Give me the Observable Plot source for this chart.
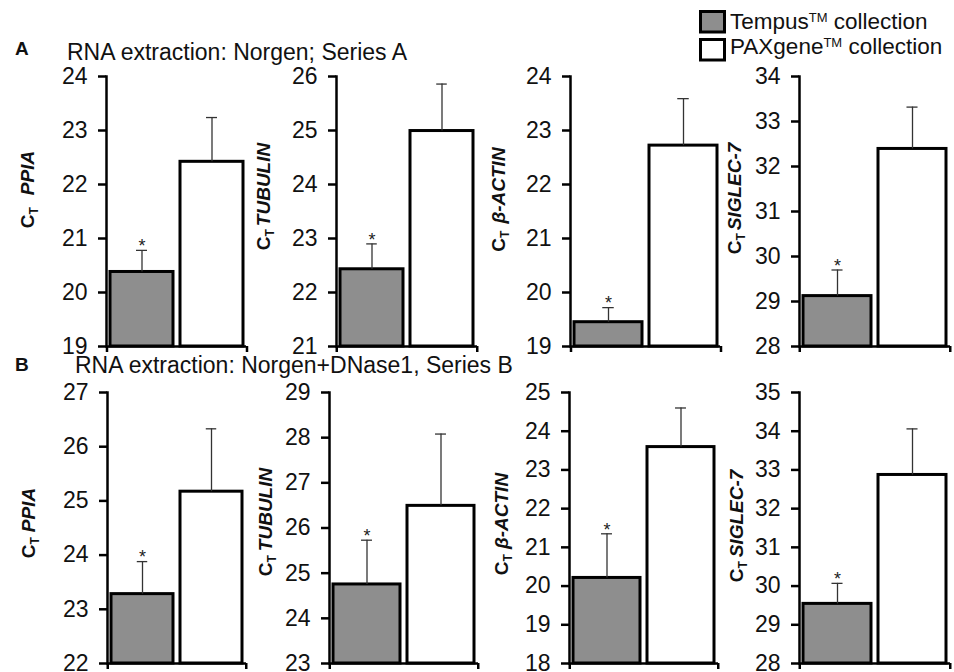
<!DOCTYPE html>
<html><head><meta charset="utf-8">
<script src="https://cdn.jsdelivr.net/npm/d3@7"></script>
<script src="https://cdn.jsdelivr.net/npm/@observablehq/plot@0.6"></script>
<style>
body{margin:0;background:#fff;}
#chart{position:relative;width:954px;height:672px;font-family:"Liberation Sans",Arial,sans-serif;color:#111;overflow:hidden;background:#fff;}
</style></head><body><div id="chart"></div>
<script>
// ---- data ----
const genes = ["PPIA","TUBULIN","β-ACTIN","SIGLEC-7"];
const collections = ["Tempus","PAXgene"];
const seriesNames = ["A","B"];
const seriesTitles = ["RNA extraction: Norgen; Series A","RNA extraction: Norgen+DNase1, Series B"];
const yMinA = [19,21,19,28], yMaxA = [24,26,24,34];
const yMinB = [22,23,18,28], yMaxB = [27,29,25,35];
const tempusA = [20.38,22.43,19.45,29.12], tempusErrA = [0.40,0.47,0.27,0.58];
const paxA    = [22.42,24.99,22.72,32.39], paxErrA    = [0.82,0.87,0.87,0.93];
const tempusB = [23.28,24.75,20.21,29.54], tempusErrB = [0.60,0.98,1.14,0.53];
const paxB    = [25.17,26.49,23.59,32.87], paxErrB    = [1.16,1.59,1.01,1.19];
const significantA = [true,true,true,true];
const significantB = [true,true,true,true];

// ---- layout (pixels) ----
const rowTop = [75.5, 392], rowBottom = [345.5, 663];
const colX0 = [[106,336,570,799],[107,329,569,799]];
const colX1 = [[246,477,720,950],[246,478,718,950]];
const titleDx = [[72,66,65,58],[72,57,61,56]];
const titleCy = [[189,196,199,198],[523,522,524,526]];
const titleGap = [[12,3,7,3],[5,4,5,4]];
const FONT = "'Liberation Sans', Arial, sans-serif";
const GRAY = "#8e8e8e";

const chart = document.getElementById("chart");

function panel(r, c) {
  const lo = [yMinA, yMinB][r][c], hi = [yMaxA, yMaxB][r][c];
  const means = [[tempusA, paxA], [tempusB, paxB]][r];
  const errs = [[tempusErrA, paxErrA], [tempusErrB, paxErrB]][r];
  const sig = [significantA, significantB][r][c];
  const data = collections.map((k, i) => ({c: k, v: means[i][c], e: errs[i][c], lo, sig: i === 0 && sig}));
  const x0 = colX0[r][c], x1 = colX1[r][c];
  const ML = 100, MR = 12, MT = 40, MB = 14;
  const W = x1 - x0 + ML + MR, H = rowBottom[r] - rowTop[r] + MT + MB;
  const pIn = 0.1, pOut = 0.05;
  const step = (x1 - x0) / (2 - pIn + 2 * pOut);
  const bw = step * (1 - pIn);
  const capInset = (bw - 11) / 2;
  const plot = Plot.plot({
    width: W, height: H, marginLeft: ML, marginRight: MR, marginTop: MT, marginBottom: MB,
    style: {background: "transparent", overflow: "visible", fontFamily: FONT, color: "#000"},
    x: {domain: collections, paddingInner: pIn, paddingOuter: pOut, axis: null},
    y: {domain: [lo, hi], axis: null},
    color: {type: "identity"},
    marks: [
      Plot.barY(data, {x: "c", y1: "lo", y2: "v", fill: d => d.c === "Tempus" ? GRAY : "#fff", stroke: "#000", strokeWidth: 3}),
      Plot.ruleX(data, {x: "c", y1: "v", y2: d => d.v + d.e, stroke: "#333", strokeWidth: 1.3}),
      Plot.tickY(data, {x: "c", y: d => d.v + d.e, stroke: "#333", strokeWidth: 1.3, insetLeft: capInset, insetRight: capInset}),
      Plot.text(data.filter(d => d.sig), {x: "c", y: d => d.v + d.e, text: () => "*", dy: -4, fontSize: 18, fill: "#222"}),
      Plot.ruleY([lo], {stroke: "#000", strokeWidth: 2.5}),
      Plot.ruleX([collections[0]], {x: d => d, y1: () => lo, y2: () => lo, dx: -step / 2, insetBottom: -6, stroke: "#000", strokeWidth: 2.5}),
      Plot.ruleX([collections[1]], {x: d => d, y1: () => lo, y2: () => lo, dx: step / 2, insetBottom: -6, stroke: "#000", strokeWidth: 2.5}),
      Plot.frame({anchor: "left", stroke: "#000", strokeWidth: 2.5}),
      Plot.axisY({ticks: d3.range(lo, hi + 1), tickSize: 8, tickPadding: 11, fontSize: 23, strokeWidth: 2.5, tickFormat: d3.format("d"), label: null, fill: "#111"})
    ]
  });
  plot.style.position = "absolute";
  plot.style.left = (x0 - ML) + "px";
  plot.style.top = (rowTop[r] - MT) + "px";
  // y-axis title: C_T gene
  const svg = d3.select(plot);
  const cy = titleCy[r][c] - (rowTop[r] - MT);
  const tx = ML - titleDx[r][c];
  const t = svg.append("text")
    .attr("transform", `translate(${tx},${cy}) rotate(-90)`)
    .attr("text-anchor", "middle")
    .attr("font-family", FONT).attr("font-weight", "bold").attr("font-size", 19).attr("fill", "#111");
  t.append("tspan").text("C");
  t.append("tspan").attr("font-size", 12).attr("dy", 4).text("T");
  t.append("tspan").attr("dy", -4).attr("dx", titleGap[r][c]).attr("font-style", "italic").text(genes[c]);
  chart.appendChild(plot);
}

for (let r = 0; r < 2; r++) for (let c = 0; c < 4; c++) panel(r, c);

// ---- headers & legend ----
const over = d3.create("svg").attr("width", 954).attr("height", 672)
  .style("position", "absolute").style("left", "0px").style("top", "0px")
  .style("font-family", FONT);
const headerY = [55, 370.5], titleY = [60, 373], titleX = [67, 75];
seriesNames.forEach((s, i) => {
  over.append("text").attr("x", 15).attr("y", headerY[i]).attr("font-size", 19).attr("font-weight", "bold").attr("fill", "#111").text(s);
  over.append("text").attr("x", titleX[i]).attr("y", titleY[i]).attr("font-size", 23).attr("fill", "#111").text(seriesTitles[i]);
});
const legendNames = ["Tempus", "PAXgene"];
const legendFill = [GRAY, "#fff"];
legendNames.forEach((n, i) => {
  over.append("rect").attr("x", 700.5).attr("y", 11.5 + i * 28).attr("width", 24).attr("height", 20.5)
    .attr("fill", legendFill[i]).attr("stroke", "#000").attr("stroke-width", 3);
  const t = over.append("text").attr("x", 730).attr("y", 28.5 + i * 25).attr("font-size", 22.5).attr("fill", "#111");
  t.append("tspan").text(n);
  t.append("tspan").attr("font-size", 13).attr("dy", -7).text("TM");
  t.append("tspan").attr("dy", 7).text(" collection");
});
chart.appendChild(over.node());
</script></body></html>
